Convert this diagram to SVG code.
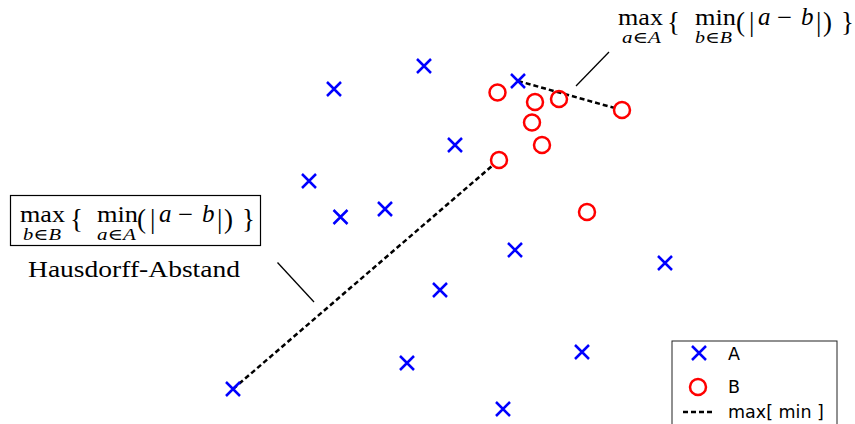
<svg xmlns="http://www.w3.org/2000/svg" xmlns:xlink="http://www.w3.org/1999/xlink" width="855" height="424" viewBox="0 0 855 424">
<style>
.a{stroke:#0000ff;stroke-width:2.5;fill:none}
.b{stroke:#ff0000;stroke-width:2.5;fill:none}
.dash{stroke:#000;stroke-width:2.5;stroke-dasharray:5,3;fill:none}
.lead{stroke:#000;stroke-width:1.3;fill:none}
.m{font-family:"Liberation Serif","DejaVu Serif",serif;font-size:23px;fill:#000}
.d{font-family:"Liberation Serif","DejaVu Serif",serif;font-size:27px;fill:#000}
.s{font-family:"Liberation Serif","DejaVu Serif",serif;font-size:16px;fill:#000}
.i{font-style:italic;font-size:25px}
.si{font-style:italic}
.leg{font-family:"DejaVu Sans",sans-serif;font-size:17.5px;fill:#000}
</style>
<defs>
<path id="x" d="M-7,-7L7,7M-7,7L7,-7"/>
<circle id="o" r="8"/>
</defs>
<rect width="855" height="424" fill="#fff"/>
<g id="connectors">
<line class="dash" x1="518" y1="81" x2="614.3" y2="107.9"/>
<line class="dash" x1="233" y1="389" x2="492.9" y2="165.2"/>
<line class="lead" x1="576" y1="86" x2="609" y2="52"/>
<line class="lead" x1="277.5" y1="262.5" x2="314" y2="302"/>
</g>
<g id="A-points" class="a">
<use id="a1" xlink:href="#x" x="334" y="89"/>
<use id="a2" xlink:href="#x" x="424" y="66"/>
<use id="a3" xlink:href="#x" x="518" y="81"/>
<use id="a4" xlink:href="#x" x="455" y="145"/>
<use id="a5" xlink:href="#x" x="309" y="181"/>
<use id="a6" xlink:href="#x" x="340.5" y="217"/>
<use id="a7" xlink:href="#x" x="385" y="209"/>
<use id="a8" xlink:href="#x" x="515" y="250"/>
<use id="a9" xlink:href="#x" x="665" y="263"/>
<use id="a10" xlink:href="#x" x="440" y="290"/>
<use id="a11" xlink:href="#x" x="582" y="352"/>
<use id="a12" xlink:href="#x" x="407" y="363"/>
<use id="a13" xlink:href="#x" x="233" y="389"/>
<use id="a14" xlink:href="#x" x="503" y="409"/>
</g>
<g id="B-points" class="b">
<use id="b1" xlink:href="#o" x="497.5" y="92.5"/>
<use id="b2" xlink:href="#o" x="535" y="102"/>
<use id="b3" xlink:href="#o" x="559" y="99"/>
<use id="b4" xlink:href="#o" x="622" y="110"/>
<use id="b5" xlink:href="#o" x="532" y="122.5"/>
<use id="b6" xlink:href="#o" x="542" y="145"/>
<use id="b7" xlink:href="#o" x="499" y="160"/>
<use id="b8" xlink:href="#o" x="587" y="212"/>
</g>
<g id="formula-top">
<text class="m" x="618" y="25" textLength="45" lengthAdjust="spacingAndGlyphs">max</text>
<text class="s" x="622" y="43" textLength="39" lengthAdjust="spacingAndGlyphs"><tspan class="si">a</tspan>∈<tspan class="si">A</tspan></text>
<text class="d" x="667" y="31">{</text>
<text class="m" x="695" y="25" textLength="41" lengthAdjust="spacingAndGlyphs">min</text>
<text class="s" x="695" y="43" textLength="37" lengthAdjust="spacingAndGlyphs"><tspan class="si">b</tspan>∈<tspan class="si">B</tspan></text>
<text class="d" x="736" y="31">(</text>
<text class="d" x="749" y="31">|</text>
<text class="m i" x="758" y="25">a</text>
<text class="m" x="777" y="25" textLength="15" lengthAdjust="spacingAndGlyphs">−</text>
<text class="m i" x="801" y="25">b</text>
<text class="d" x="816" y="31">|</text>
<text class="d" x="823" y="31">)</text>
<text class="d" x="841" y="31">}</text>
</g>
<g id="formula-box">
<rect x="10.5" y="195.5" width="250" height="50" fill="none" stroke="#000" stroke-width="1.2"/>
<text class="m" x="20" y="222" textLength="45" lengthAdjust="spacingAndGlyphs">max</text>
<text class="s" x="23" y="240" textLength="38" lengthAdjust="spacingAndGlyphs"><tspan class="si">b</tspan>∈<tspan class="si">B</tspan></text>
<text class="d" x="70" y="228">{</text>
<text class="m" x="97" y="222" textLength="41" lengthAdjust="spacingAndGlyphs">min</text>
<text class="s" x="97" y="240" textLength="39" lengthAdjust="spacingAndGlyphs"><tspan class="si">a</tspan>∈<tspan class="si">A</tspan></text>
<text class="d" x="137" y="228">(</text>
<text class="d" x="150" y="228">|</text>
<text class="m i" x="159" y="222">a</text>
<text class="m" x="178" y="222" textLength="15" lengthAdjust="spacingAndGlyphs">−</text>
<text class="m i" x="202" y="222">b</text>
<text class="d" x="217" y="228">|</text>
<text class="d" x="224" y="228">)</text>
<text class="d" x="242" y="228">}</text>
</g>
<g id="label-hausdorff">
<text class="m" x="28" y="277" textLength="212" lengthAdjust="spacingAndGlyphs">Hausdorff-Abstand</text>
</g>
<g id="legend">
<rect x="672" y="341" width="165" height="95" fill="#fff" stroke="#222" stroke-width="1"/>
<use xlink:href="#x" x="699" y="353" class="a"/>
<text class="leg" x="728" y="360">A</text>
<use xlink:href="#o" x="698" y="387" class="b"/>
<text class="leg" x="728" y="393">B</text>
<line class="dash" x1="683" y1="412" x2="715" y2="412" stroke-dasharray="4.5,2.5"/>
<text class="leg" x="728" y="418">max[ min ]</text>
</g>
</svg>
